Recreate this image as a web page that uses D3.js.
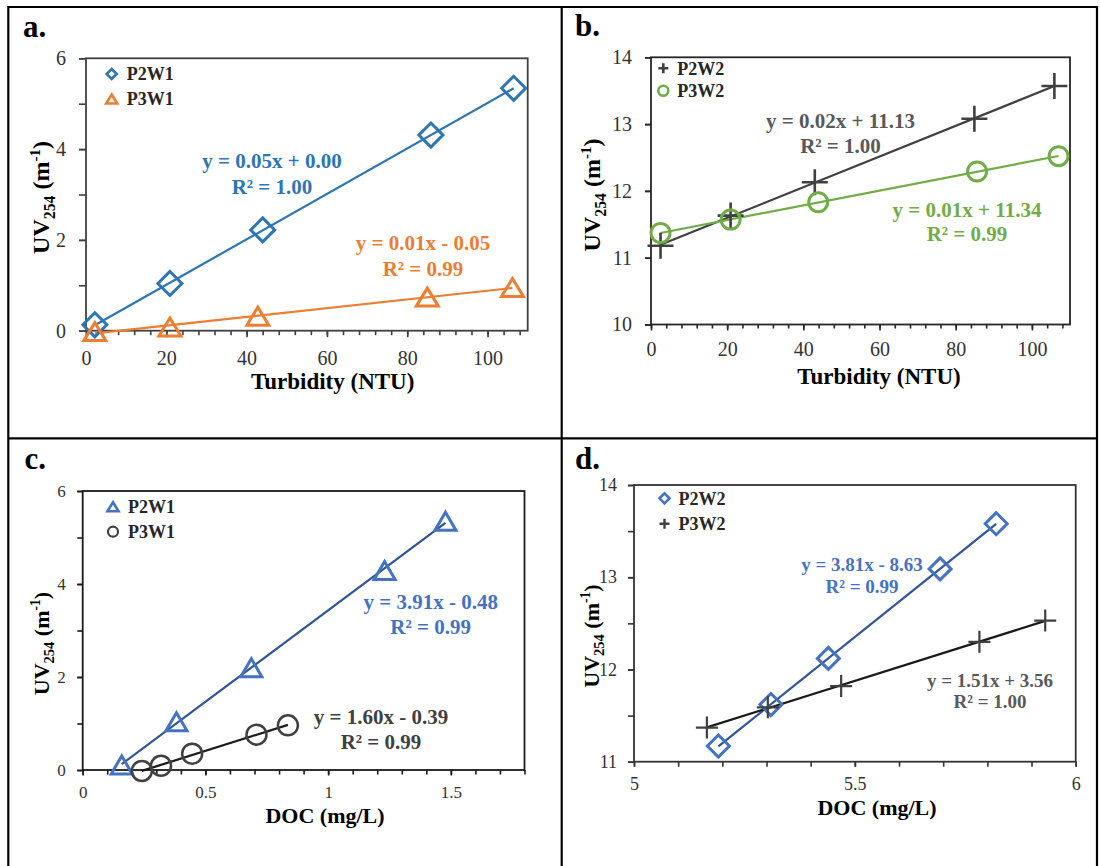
<!DOCTYPE html>
<html>
<head>
<meta charset="utf-8">
<script src="https://cdn.jsdelivr.net/npm/d3@7"></script>
<style>
  html, body { margin: 0; padding: 0; background: #fff; }
  svg { display: block; }
</style>
</head>
<body>
<svg id="chart" width="1100" height="866"></svg>
<script>
// ---------------- DATA ----------------
// Panel a: UV254 vs Turbidity (W1)
const aP2W1Turbidity = [2.2, 20.9, 44.0, 85.9, 106.5];
const aP2W1UV = [0.13, 1.04, 2.22, 4.31, 5.34];
const aP3W1Turbidity = [2.2, 20.9, 42.8, 85.0, 106.2];
const aP3W1UV = [-0.02, 0.08, 0.32, 0.74, 0.95];
// Panel b: UV254 vs Turbidity (W2)
const bP2W2Turbidity = [2.5, 20.9, 43.0, 84.9, 105.9];
const bP2W2UV = [11.18, 11.63, 12.13, 13.08, 13.57];
const bP3W2Turbidity = [2.5, 20.9, 43.9, 85.6, 107.0];
const bP3W2UV = [11.37, 11.57, 11.83, 12.29, 12.52];
// Panel c: UV254 vs DOC (W1)
const cP2W1DOC = [0.159, 0.382, 0.687, 1.230, 1.478];
const cP2W1UV = [0.11, 1.04, 2.20, 4.29, 5.35];
const cP3W1DOC = [0.241, 0.319, 0.446, 0.708, 0.836];
const cP3W1UV = [-0.02, 0.09, 0.35, 0.76, 0.96];
// Panel d: UV254 vs DOC (W2)
const dP2W2DOC = [5.191, 5.310, 5.440, 5.693, 5.820];
const dP2W2UV = [11.17, 11.62, 12.12, 13.09, 13.58];
const dP3W2DOC = [5.165, 5.303, 5.469, 5.782, 5.931];
const dP3W2UV = [11.37, 11.59, 11.82, 12.30, 12.53];

// Tick labels
const aXTickLabels = [0, 20, 40, 60, 80, 100];
const aYTickLabels = [0, 2, 4, 6];
const bXTickLabels = [0, 20, 40, 60, 80, 100];
const bYTickLabels = [10, 11, 12, 13, 14];
const cXTickLabels = [0, 0.5, 1, 1.5];
const cYTickLabels = [0, 2, 4, 6];
const dXTickLabels = [5, 5.5, 6];
const dYTickLabels = [11, 12, 13, 14];

// Text
const panelLetters = ["a.", "b.", "c.", "d."];
const seriesNames = { a: ["P2W1", "P3W1"], b: ["P2W2", "P3W2"], c: ["P2W1", "P3W1"], d: ["P2W2", "P3W2"] };
const equations = {
  a: [["y = 0.05x + 0.00", "R² = 1.00"], ["y = 0.01x - 0.05", "R² = 0.99"]],
  b: [["y = 0.02x + 11.13", "R² = 1.00"], ["y = 0.01x + 11.34", "R² = 0.99"]],
  c: [["y = 3.91x - 0.48", "R² = 0.99"], ["y = 1.60x - 0.39", "R² = 0.99"]],
  d: [["y = 3.81x - 8.63", "R² = 0.99"], ["y = 1.51x + 3.56", "R² = 1.00"]]
};
const xTitles = ["Turbidity (NTU)", "Turbidity (NTU)", "DOC (mg/L)", "DOC (mg/L)"];

// ---------------- DRAWING ----------------
const FONT = "'Liberation Serif','Times New Roman',serif";
const svg = d3.select("#chart");
svg.append("rect").attr("width", 1100).attr("height", 866).attr("fill", "#fff");

// Figure borders
const borders = svg.append("g").attr("stroke", "#000").attr("stroke-width", 2.2);
borders.append("line").attr("x1", 8).attr("x2", 1098).attr("y1", 7).attr("y2", 7);
borders.append("line").attr("x1", 8.3).attr("x2", 8.3).attr("y1", 6).attr("y2", 866);
borders.append("line").attr("x1", 1097).attr("x2", 1097).attr("y1", 6).attr("y2", 866);
borders.append("line").attr("x1", 561.7).attr("x2", 561.7).attr("y1", 6).attr("y2", 866);
borders.append("line").attr("x1", 8).attr("x2", 1098).attr("y1", 438.3).attr("y2", 438.3);

// marker paths
const M = {
  diamond: r => `M0,${-r}L${r},0L0,${r}L${-r},0Z`,
  triangle: (w, h) => `M0,${-h / 2}L${w / 2},${h / 2}L${-w / 2},${h / 2}Z`,
  plus: r => `M${-r},0H${r}M0,${-r}V${r}`,
};
function marker(g, type, cx, cy, size, color, sw) {
  if (type === "circle") {
    g.append("circle").attr("cx", cx).attr("cy", cy).attr("r", size.r)
      .attr("fill", "none").attr("stroke", color).attr("stroke-width", sw);
  } else {
    let d;
    if (type === "diamond") d = M.diamond(size.r);
    else if (type === "triangle") d = M.triangle(size.w, size.h);
    else d = M.plus(size.r);
    g.append("path").attr("d", d).attr("transform", `translate(${cx},${cy})`)
      .attr("fill", "none").attr("stroke", color).attr("stroke-width", sw)
      .attr("stroke-linejoin", "miter");
  }
}
function linFit(xs, ys) {
  const n = xs.length, mx = d3.mean(xs), my = d3.mean(ys);
  let sxy = 0, sxx = 0;
  for (let i = 0; i < n; i++) { sxy += (xs[i] - mx) * (ys[i] - my); sxx += (xs[i] - mx) ** 2; }
  const m = sxy / sxx; return { m, b: my - m * mx };
}

function drawPanel(p) {
  const g = svg.append("g");
  const x = d3.scaleLinear().domain(p.xDomain).range([p.left, p.right]);
  const y = d3.scaleLinear().domain(p.yDomain).range([p.bottom, p.top]);

  // minor x ticks
  const gxm = g.append("g").attr("transform", `translate(0,${p.bottom})`)
    .call(d3.axisBottom(x).tickValues(p.xMinor).tickSize(p.xMinorLen).tickFormat(""));
  gxm.select(".domain").remove();
  // major x ticks + labels
  const gx = g.append("g").attr("transform", `translate(0,${p.bottom})`)
    .call(d3.axisBottom(x).tickValues(p.xLabels).tickSize(p.xMajorLen).tickPadding(p.xPad).tickFormat(d => String(d)));
  gx.select(".domain").remove();
  // y ticks
  const gym = g.append("g").attr("transform", `translate(${p.left},0)`)
    .call(d3.axisLeft(y).tickValues(p.yMinor).tickSize(p.yLen).tickFormat(""));
  gym.select(".domain").remove();
  const gy = g.append("g").attr("transform", `translate(${p.left},0)`)
    .call(d3.axisLeft(y).tickValues(p.yLabels).tickSize(p.yLen).tickPadding(p.yPad).tickFormat(d => String(d)));
  gy.select(".domain").remove();
  g.selectAll(".tick line").attr("stroke", p.axisColor).attr("stroke-width", 1.6);
  g.selectAll(".tick text").attr("font-family", FONT).attr("font-size", p.tickFont).attr("fill", "#333");

  // frame
  g.append("rect").attr("x", p.left).attr("y", p.top)
    .attr("width", p.right - p.left).attr("height", p.bottom - p.top)
    .attr("fill", "none").attr("stroke", p.axisColor).attr("stroke-width", 1.8);

  // series
  p.series.forEach(s => {
    const fit = linFit(s.xs, s.ys);
    const x0 = d3.min(s.xs), x1 = d3.max(s.xs);
    g.append("line").attr("x1", x(x0)).attr("y1", y(fit.m * x0 + fit.b))
      .attr("x2", x(x1)).attr("y2", y(fit.m * x1 + fit.b))
      .attr("stroke", s.lineColor).attr("stroke-width", 2.2);
  });
  p.series.forEach(s => {
    s.xs.forEach((xv, i) => marker(g, s.type, x(xv), y(s.ys[i]), s.size, s.color, s.sw));
  });

  // legend
  p.series.forEach((s, i) => {
    const ly = p.legend.y + i * p.legend.dy;
    marker(g, s.type, p.legend.x, ly, s.legSize, s.color, s.legSw);
    g.append("text").attr("x", p.legend.x + p.legend.tx).attr("y", ly).attr("dy", "0.35em")
      .attr("font-family", FONT).attr("font-weight", "bold").attr("font-size", 18)
      .attr("fill", "#262626").text(s.name);
  });

  // equations
  p.series.forEach(s => {
    s.eqLines.forEach((t, i) => {
      g.append("text").attr("x", s.eq.x).attr("y", s.eq.y + i * s.eq.dy)
        .attr("text-anchor", "middle").attr("font-family", FONT).attr("font-weight", "bold")
        .attr("font-size", p.eqFont).attr("fill", s.eqColor).text(t);
    });
  });

  // x title
  g.append("text").attr("x", p.xTitle.x).attr("y", p.xTitle.y).attr("text-anchor", "middle")
    .attr("font-family", FONT).attr("font-weight", "bold").attr("font-size", p.xTitle.size)
    .attr("fill", "#000").text(p.xTitle.text);

  // y title
  const fs = p.yTitle.size;
  const yt = g.append("text").attr("transform", `translate(${p.yTitle.x},${p.yTitle.y}) rotate(-90)`)
    .attr("text-anchor", "middle").attr("font-family", FONT).attr("font-weight", "bold")
    .attr("font-size", fs).attr("fill", "#000");
  yt.append("tspan").text("UV");
  yt.append("tspan").attr("font-size", fs * 0.66).attr("dy", fs * 0.25).text("254");
  yt.append("tspan").attr("dy", -fs * 0.25).text(" (m");
  yt.append("tspan").attr("font-size", fs * 0.62).attr("dy", -fs * 0.38).text("-1");
  yt.append("tspan").attr("dy", fs * 0.38).text(")");

  // panel letter
  g.append("text").attr("x", p.letter.x).attr("y", p.letter.y)
    .attr("font-family", FONT).attr("font-weight", "bold").attr("font-size", 31)
    .attr("fill", "#000").text(p.letter.text);
}

// Panel a
drawPanel({
  left: 86, right: 527.7, top: 58.3, bottom: 330.7,
  xDomain: [0, 110], yDomain: [0, 6],
  xMinor: d3.range(0, 109, 4), xLabels: aXTickLabels, xMinorLen: 4.5, xMajorLen: 6.5, xPad: 13.6,
  yMinor: d3.range(0, 6.5, 1), yLabels: aYTickLabels, yLen: 7, yPad: 13,
  tickFont: 20, eqFont: 21, axisColor: "#404040",
  series: [
    { name: seriesNames.a[0], xs: aP2W1Turbidity, ys: aP2W1UV, type: "diamond", size: { r: 12 }, sw: 3,
      legSize: { r: 5 }, legSw: 2.6, color: "#2E75B6", lineColor: "#2E75B6",
      eqLines: equations.a[0], eq: { x: 272, y: 168.3, dy: 25.7 }, eqColor: "#2E75B6" },
    { name: seriesNames.a[1], xs: aP3W1Turbidity, ys: aP3W1UV, type: "triangle", size: { w: 22, h: 18 }, sw: 3,
      legSize: { w: 11, h: 9 }, legSw: 2.6, color: "#ED7D31", lineColor: "#ED7D31",
      eqLines: equations.a[1], eq: { x: 423, y: 250, dy: 25.7 }, eqColor: "#ED7D31" }
  ],
  legend: { x: 111.7, y: 74, dy: 25, tx: 15 },
  xTitle: { x: 332.7, y: 389, size: 23, text: xTitles[0] },
  yTitle: { x: 49, y: 197.5, size: 24 },
  letter: { x: 23, y: 37, text: panelLetters[0] }
});

// Panel b
drawPanel({
  left: 651, right: 1070, top: 57.3, bottom: 324.5,
  xDomain: [0, 110], yDomain: [10, 14],
  xMinor: d3.range(0, 109, 4), xLabels: bXTickLabels, xMinorLen: 4, xMajorLen: 6, xPad: 10.8,
  yMinor: bYTickLabels, yLabels: bYTickLabels, yLen: 6, yPad: 13,
  tickFont: 20, eqFont: 21, axisColor: "#262626",
  series: [
    { name: seriesNames.b[0], xs: bP2W2Turbidity, ys: bP2W2UV, type: "plus", size: { r: 13 }, sw: 2.6,
      legSize: { r: 5 }, legSw: 2.6, color: "#404040", lineColor: "#404040",
      eqLines: equations.b[0], eq: { x: 840.5, y: 128.3, dy: 24.4 }, eqColor: "#595959" },
    { name: seriesNames.b[1], xs: bP3W2Turbidity, ys: bP3W2UV, type: "circle", size: { r: 9.5 }, sw: 3,
      legSize: { r: 5 }, legSw: 2.6, color: "#70AD47", lineColor: "#70AD47",
      eqLines: equations.b[1], eq: { x: 967, y: 216.7, dy: 24 }, eqColor: "#70AD47" }
  ],
  legend: { x: 663.3, y: 68.3, dy: 22.4, tx: 14 },
  xTitle: { x: 879, y: 384, size: 23, text: xTitles[1] },
  yTitle: { x: 600, y: 195, size: 24 },
  letter: { x: 575, y: 36, text: panelLetters[1] }
});

// Panel c
drawPanel({
  left: 82.7, right: 524.5, top: 491, bottom: 770,
  xDomain: [0, 1.8], yDomain: [0, 6],
  xMinor: d3.range(0, 1.81, 0.1), xLabels: cXTickLabels, xMinorLen: 4.5, xMajorLen: 5.5, xPad: 10.5,
  yMinor: d3.range(0, 6.5, 1), yLabels: cYTickLabels, yLen: 5.4, yPad: 11.6,
  tickFont: 17, eqFont: 21, axisColor: "#1a1a1a",
  series: [
    { name: seriesNames.c[0], xs: cP2W1DOC, ys: cP2W1UV, type: "triangle", size: { w: 21, h: 18 }, sw: 3,
      legSize: { w: 11, h: 9 }, legSw: 2.6, color: "#4472C4", lineColor: "#2F5597",
      eqLines: equations.c[0], eq: { x: 430.7, y: 609.3, dy: 25 }, eqColor: "#4472C4" },
    { name: seriesNames.c[1], xs: cP3W1DOC, ys: cP3W1UV, type: "circle", size: { r: 10 }, sw: 2.5,
      legSize: { r: 5 }, legSw: 2.2, color: "#404040", lineColor: "#1a1a1a",
      eqLines: equations.c[1], eq: { x: 381, y: 724.3, dy: 25 }, eqColor: "#404040" }
  ],
  legend: { x: 113, y: 506.7, dy: 25, tx: 15 },
  xTitle: { x: 325, y: 823, size: 22, text: xTitles[2] },
  yTitle: { x: 48.5, y: 643.5, size: 22 },
  letter: { x: 24.6, y: 469, text: panelLetters[2] }
});

// Panel d
drawPanel({
  left: 634, right: 1075.7, top: 485, bottom: 761.7,
  xDomain: [5, 6], yDomain: [11, 14],
  xMinor: d3.range(5, 6.01, 0.1), xLabels: dXTickLabels, xMinorLen: 5, xMajorLen: 5, xPad: 10.5,
  yMinor: d3.range(11, 14.01, 0.5), yLabels: dYTickLabels, yLen: 6, yPad: 11,
  tickFont: 18, eqFont: 19, axisColor: "#333",
  series: [
    { name: seriesNames.d[0], xs: dP2W2DOC, ys: dP2W2UV, type: "diamond", size: { r: 11 }, sw: 3,
      legSize: { r: 5 }, legSw: 2.6, color: "#4472C4", lineColor: "#2F5597",
      eqLines: equations.d[0], eq: { x: 862, y: 571, dy: 21.7 }, eqColor: "#4472C4" },
    { name: seriesNames.d[1], xs: dP3W2DOC, ys: dP3W2UV, type: "plus", size: { r: 11 }, sw: 2.2,
      legSize: { r: 5 }, legSw: 2.4, color: "#404040", lineColor: "#1a1a1a",
      eqLines: equations.d[1], eq: { x: 990, y: 686.7, dy: 21.6 }, eqColor: "#595959" }
  ],
  legend: { x: 664.5, y: 498.3, dy: 25.4, tx: 14 },
  xTitle: { x: 877, y: 815, size: 22, text: xTitles[3] },
  yTitle: { x: 598.5, y: 636, size: 22 },
  letter: { x: 575, y: 469, text: panelLetters[3] }
});
</script>
</body>
</html>
